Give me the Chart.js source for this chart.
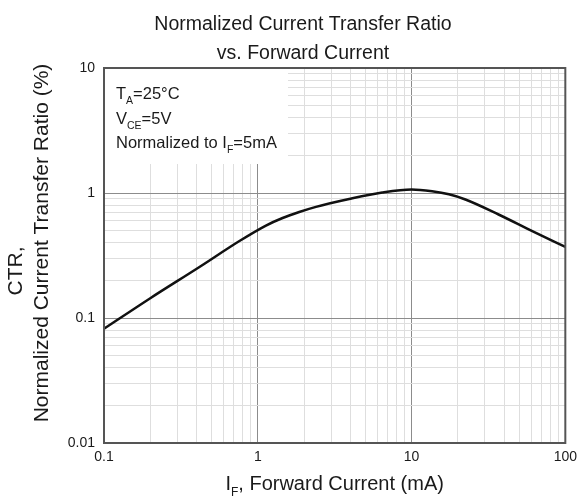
<!DOCTYPE html>
<html>
<head>
<meta charset="utf-8">
<script src="https://cdn.jsdelivr.net/npm/chart.js@4/dist/chart.umd.min.js"></script>
<style>
  html, body { margin: 0; padding: 0; background: #fff; }
  #wrap { width: 583px; height: 497px; }
</style>
</head>
<body>
<div id="wrap"><canvas id="c" width="583" height="497"></canvas></div>
<script>
// ---- data ----
const forwardCurrentMA = [0.1, 0.2, 0.42, 0.76, 1.13, 1.45, 1.86, 2.39, 3.93, 6.45, 10, 13.6, 17.5, 22.4, 36.8, 60.5, 100];
const ctrNormalized   = [0.082, 0.144, 0.257, 0.413, 0.549, 0.631, 0.705, 0.775, 0.895, 1.009, 1.067, 1.032, 0.976, 0.887, 0.673, 0.498, 0.37];
const xTickLabels = ['0.1', '1', '10', '100'];
const yTickLabels = ['0.01', '0.1', '1', '10'];
const titleLines = ['Normalized Current Transfer Ratio', 'vs. Forward Current'];
const yAxisTitle = ['CTR,', 'Normalized Current Transfer Ratio (%)'];
const xAxisTitle = { main: 'I', sub: 'F', rest: ', Forward Current (mA)' };
const conditions = [
  { main: 'T', sub: 'A', rest: '=25°C' },
  { main: 'V', sub: 'CE', rest: '=5V' },
  { main: 'Normalized to I', sub: 'F', rest: '=5mA' }
];

const FONT = '"Liberation Sans", Arial, sans-serif';

function gridValues(labels) {
  const out = [];
  const decades = labels.map(Number);
  for (let i = 0; i < decades.length - 1; i++) {
    for (let k = 1; k <= 9; k++) out.push(decades[i] * k);
  }
  out.push(decades[decades.length - 1]);
  return out;
}
function isDecade(v) {
  const l = Math.log10(v);
  return Math.abs(l - Math.round(l)) < 1e-9;
}
function labelFor(v, labels) {
  if (!isDecade(v)) return '';
  const f = labels.find(s => Math.abs(Number(s) - v) < 1e-12 * Math.max(1, v));
  return f !== undefined ? f : '';
}

function drawSub(ctx, x, y, parts, size, subSize, subDrop) {
  ctx.textAlign = 'left';
  ctx.font = size + 'px ' + FONT;
  ctx.fillText(parts.main, x, y);
  x += ctx.measureText(parts.main).width;
  ctx.font = subSize + 'px ' + FONT;
  ctx.fillText(parts.sub, x, y + subDrop);
  x += ctx.measureText(parts.sub).width;
  ctx.font = size + 'px ' + FONT;
  ctx.fillText(parts.rest, x, y);
}
function subWidth(ctx, parts, size, subSize) {
  ctx.font = size + 'px ' + FONT;
  let w = ctx.measureText(parts.main).width + ctx.measureText(parts.rest).width;
  ctx.font = subSize + 'px ' + FONT;
  w += ctx.measureText(parts.sub).width;
  return w;
}

const decor = {
  id: 'decor',
  beforeDatasetsDraw(chart) {
    const { ctx, chartArea: a } = chart;
    ctx.save();
    ctx.fillStyle = '#ffffff';
    ctx.fillRect(a.left + 1, a.top + 1, 287 - a.left, 163 - a.top);
    ctx.restore();
  },
  afterDatasetsDraw(chart) {
    const { ctx, chartArea: a } = chart;
    ctx.save();
    ctx.strokeStyle = '#555555';
    ctx.lineWidth = 2;
    ctx.strokeRect(a.left, a.top, a.right - a.left, a.bottom - a.top);
    ctx.restore();
  },
  afterDraw(chart) {
    const { ctx, chartArea: a } = chart;
    ctx.save();
    ctx.fillStyle = '#1a1a1a';
    ctx.textBaseline = 'alphabetic';
    // chart title
    ctx.font = '19.5px ' + FONT;
    ctx.textAlign = 'center';
    ctx.fillText(titleLines[0], 303, 29.5);
    ctx.fillText(titleLines[1], 303, 58.5);
    // y axis title (rotated)
    ctx.save();
    ctx.font = '21px ' + FONT;
    ctx.textBaseline = 'middle';
    ctx.textAlign = 'center';
    ctx.translate(16, 271); ctx.rotate(-Math.PI / 2);
    ctx.fillText(yAxisTitle[0], 0, 0);
    ctx.restore();
    ctx.save();
    ctx.font = '21px ' + FONT;
    ctx.textBaseline = 'middle';
    ctx.textAlign = 'center';
    ctx.translate(42, 243); ctx.rotate(-Math.PI / 2);
    ctx.fillText(yAxisTitle[1], 0, 0);
    ctx.restore();
    // conditions box
    const base = [99, 123.5, 148];
    conditions.forEach((p, i) => drawSub(ctx, a.left + 12, base[i], p, 16.5, 10.5, 5));
    // x axis title
    const w = subWidth(ctx, xAxisTitle, 20, 12);
    drawSub(ctx, (a.left + a.right) / 2 - w / 2, 490, xAxisTitle, 20, 12, 6);
    ctx.restore();
  }
};

const gridColor = (ctx) => {
  const v = ctx.tick && ctx.tick.value;
  return v !== undefined && isDecade(v) ? '#8c8c8c' : '#dedede';
};

new Chart(document.getElementById('c'), {
  type: 'scatter',
  data: {
    datasets: [{
      data: forwardCurrentMA.map((x, i) => ({ x, y: ctrNormalized[i] })),
      showLine: true,
      borderColor: '#111111',
      borderWidth: 2.5,
      pointRadius: 0,
      cubicInterpolationMode: 'monotone',
      fill: false
    }]
  },
  plugins: [decor],
  options: {
    responsive: false,
    animation: false,
    devicePixelRatio: 1,
    layout: { padding: { top: 68, right: 16, left: 0, bottom: 0 } },
    plugins: { legend: { display: false }, tooltip: { enabled: false }, title: { display: false } },
    scales: {
      x: {
        type: 'logarithmic',
        min: 0.1, max: 100,
        afterBuildTicks: (s) => { s.ticks = gridValues(xTickLabels).map(v => ({ value: v })); },
        afterFit: (s) => { s.height = 54; },
        ticks: {
          autoSkip: false, maxRotation: 0, minRotation: 0, padding: 6,
          color: '#1a1a1a', font: { family: FONT, size: 14 },
          callback: (v) => labelFor(v, xTickLabels)
        },
        grid: { color: gridColor, lineWidth: 1, drawTicks: false },
        border: { display: false }
      },
      y: {
        type: 'logarithmic',
        min: 0.01, max: 10,
        afterBuildTicks: (s) => { s.ticks = gridValues(yTickLabels).map(v => ({ value: v })); },
        afterFit: (s) => { s.width = 104; },
        ticks: {
          autoSkip: false, padding: 9,
          color: '#1a1a1a', font: { family: FONT, size: 14 },
          callback: (v) => labelFor(v, yTickLabels)
        },
        grid: { color: gridColor, lineWidth: 1, drawTicks: false },
        border: { display: false }
      }
    }
  }
});
</script>
</body>
</html>
